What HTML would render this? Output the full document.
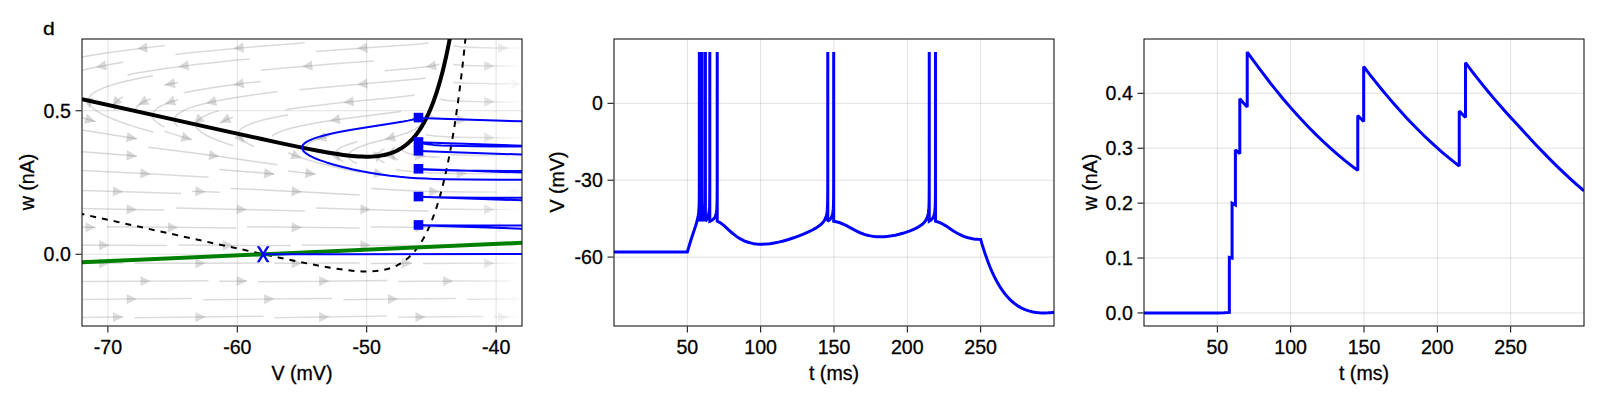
<!DOCTYPE html>
<html><head><meta charset="utf-8"><title>d</title><style>html,body{margin:0;padding:0;background:#fff}svg{display:block}</style></head><body>
<svg width="1600" height="400" viewBox="0 0 1600 400" font-family='"Liberation Sans", "DejaVu Sans", sans-serif' font-size="19.6" fill="#000">
<style>text{stroke:#000;stroke-width:0.3px}</style>
<rect width="1600" height="400" fill="#fff"/>
<defs>
<clipPath id="c0"><rect x="82" y="39" width="440" height="287"/></clipPath>
<clipPath id="c1"><rect x="614" y="39" width="440" height="287"/></clipPath>
<clipPath id="c2"><rect x="1144" y="39" width="440" height="287"/></clipPath>
</defs>
<line x1="107.88" x2="107.88" y1="39" y2="326" stroke="#000" stroke-opacity="0.12" stroke-width="1"/>
<line x1="237.29" x2="237.29" y1="39" y2="326" stroke="#000" stroke-opacity="0.12" stroke-width="1"/>
<line x1="366.71" x2="366.71" y1="39" y2="326" stroke="#000" stroke-opacity="0.12" stroke-width="1"/>
<line x1="496.12" x2="496.12" y1="39" y2="326" stroke="#000" stroke-opacity="0.12" stroke-width="1"/>
<line x1="82" x2="522" y1="254.25" y2="254.25" stroke="#000" stroke-opacity="0.12" stroke-width="1"/>
<line x1="82" x2="522" y1="110.75" y2="110.75" stroke="#000" stroke-opacity="0.12" stroke-width="1"/>
<line x1="687.33" x2="687.33" y1="39" y2="326" stroke="#000" stroke-opacity="0.12" stroke-width="1"/>
<line x1="760.67" x2="760.67" y1="39" y2="326" stroke="#000" stroke-opacity="0.12" stroke-width="1"/>
<line x1="834.00" x2="834.00" y1="39" y2="326" stroke="#000" stroke-opacity="0.12" stroke-width="1"/>
<line x1="907.33" x2="907.33" y1="39" y2="326" stroke="#000" stroke-opacity="0.12" stroke-width="1"/>
<line x1="980.67" x2="980.67" y1="39" y2="326" stroke="#000" stroke-opacity="0.12" stroke-width="1"/>
<line x1="614" x2="1054" y1="103.31" y2="103.31" stroke="#000" stroke-opacity="0.12" stroke-width="1"/>
<line x1="614" x2="1054" y1="180.20" y2="180.20" stroke="#000" stroke-opacity="0.12" stroke-width="1"/>
<line x1="614" x2="1054" y1="257.09" y2="257.09" stroke="#000" stroke-opacity="0.12" stroke-width="1"/>
<line x1="1217.33" x2="1217.33" y1="39" y2="326" stroke="#000" stroke-opacity="0.12" stroke-width="1"/>
<line x1="1290.67" x2="1290.67" y1="39" y2="326" stroke="#000" stroke-opacity="0.12" stroke-width="1"/>
<line x1="1364.00" x2="1364.00" y1="39" y2="326" stroke="#000" stroke-opacity="0.12" stroke-width="1"/>
<line x1="1437.33" x2="1437.33" y1="39" y2="326" stroke="#000" stroke-opacity="0.12" stroke-width="1"/>
<line x1="1510.67" x2="1510.67" y1="39" y2="326" stroke="#000" stroke-opacity="0.12" stroke-width="1"/>
<line x1="1144" x2="1584" y1="312.95" y2="312.95" stroke="#000" stroke-opacity="0.12" stroke-width="1"/>
<line x1="1144" x2="1584" y1="258.04" y2="258.04" stroke="#000" stroke-opacity="0.12" stroke-width="1"/>
<line x1="1144" x2="1584" y1="203.13" y2="203.13" stroke="#000" stroke-opacity="0.12" stroke-width="1"/>
<line x1="1144" x2="1584" y1="148.21" y2="148.21" stroke="#000" stroke-opacity="0.12" stroke-width="1"/>
<line x1="1144" x2="1584" y1="93.30" y2="93.30" stroke="#000" stroke-opacity="0.12" stroke-width="1"/>
<g clip-path="url(#c0)">
<path d="M443.2 118.8 L439.3 118.3 L436.2 117.8 L433.6 117.2 L431.7 116.5 L430.2 115.7 L429.7 115.2 L429.3 114.7 L429.1 114.2 L428.8 113.4 L428.7 112.2 L429.0 111.1 L429.5 109.6 L433.1 100.5 L435.5 93.8 L437.8 86.8 L440.1 79.1 L442.5 70.1 L444.8 60.7 L447.1 50.4 L449.4 39.2 M460.1 119.7 L460.3 119.7 M88.9 101.8 L88.8 101.0 L88.7 99.0 L88.8 98.6 L89.2 97.6 L89.7 96.8 L90.3 95.9 L91.2 94.9 L93.3 93.2 L96.0 91.4 L99.3 89.8 L103.0 88.1 L107.3 86.5 L112.1 84.9 L117.5 83.3 L123.5 81.8 L129.9 80.3 L137.0 78.7 L144.7 77.2 L153.0 75.7 M88.9 101.8 L89.0 102.5 L89.3 103.3 L89.6 104.2 L90.2 105.0 L91.6 106.8 L93.5 108.6 L95.8 110.4 L98.7 112.2 L102.1 114.1 L105.8 116.0 L110.1 117.9 L114.9 119.8 L120.0 121.8 L125.7 123.8 L131.9 125.9 L138.5 127.9 L145.8 130.0 L153.4 132.2 M102.9 53.5 L92.1 55.2 L82.0 56.9 M456.6 46.3 L453.4 45.7 M501.4 48.0 L501.5 48.0 M168.7 68.1 L157.3 69.7 L146.6 71.4 L136.7 73.1 L127.5 74.9 M102.6 65.9 L112.5 64.1 L123.2 62.3 M102.6 65.9 L91.8 68.1 L82.0 70.3 M432.6 65.9 L436.5 65.1 L439.5 64.3 M432.6 65.9 L426.5 66.8 M453.8 64.4 L453.3 64.3 M487.6 65.9 L487.8 65.9 M212.6 101.8 L219.0 100.5 L225.7 99.2 L240.8 96.7 L257.9 94.2 L277.1 91.8 M212.5 101.8 L206.4 103.2 L201.0 104.6 L195.9 106.0 L191.5 107.4 L187.5 108.9 L184.2 110.3 L181.3 111.8 L178.9 113.3 L176.9 114.9 L176.1 115.8 L175.5 116.6 L175.1 117.3 L174.7 118.1 L174.5 119.1 L174.3 120.0 L174.4 122.1 L174.8 122.8 L175.5 123.8 L176.2 124.7 L178.2 126.6 M403.4 96.4 L414.7 95.1 M350.1 101.8 L350.0 101.8 M335.4 103.3 L321.3 104.9 L308.3 106.5 L296.4 108.1 L285.5 109.7 M171.4 101.8 L178.2 99.7 M171.4 101.8 L167.5 103.2 L164.0 104.6 L161.0 106.0 L158.4 107.5 L156.4 109.0 L154.7 110.6 L154.0 111.3 L153.5 112.1 L152.9 113.6 L152.6 115.0 L152.6 117.8 L153.2 118.7 L153.9 119.7 L155.7 121.5 L158.1 123.3 L160.9 125.1 L164.4 127.0 M143.9 101.8 L147.1 100.2 L150.7 98.8 M143.9 101.8 L142.1 102.8 L140.4 103.8 L139.0 104.9 L137.8 105.9 L136.9 106.9 L136.1 108.0 L135.6 109.0 L135.2 110.3 M116.4 101.8 L117.7 100.5 L119.2 99.2 L121.0 98.0 L123.2 96.8 M116.4 101.8 L115.5 103.0 L114.8 104.1 L114.4 105.2 L114.2 106.9 L114.3 108.3 L114.4 108.7 L114.8 109.5 L115.5 110.6 M447.4 100.4 L442.8 99.7 L441.0 99.3 L439.6 98.9 M487.6 101.8 L487.8 101.8 M420.2 78.7 L425.7 77.9 M363.9 83.8 L363.7 83.9 M240.1 83.8 L240.4 83.8 M240.0 83.9 L223.7 86.0 L208.8 88.2 L195.5 90.5 L183.7 92.8 M171.4 83.8 L178.2 82.6 M171.4 83.8 L164.5 85.1 M336.4 119.7 L355.0 117.2 L389.3 113.1 L401.0 111.6 M336.4 119.7 L323.2 121.7 L311.7 123.7 L301.6 125.7 L292.9 127.7 L289.1 128.7 L285.6 129.8 L282.5 130.8 L279.7 131.9 L277.2 132.9 L275.0 134.1 L273.2 135.2 L271.8 136.3 M212.6 155.6 L180.4 151.3 L148.0 147.2 M212.6 155.6 L244.2 160.0 L277.2 164.7 M240.1 137.7 L239.5 136.7 L239.1 136.0 L238.8 135.4 L238.6 134.4 L238.5 133.3 L238.6 132.4 L239.0 131.5 L239.5 130.7 L240.0 130.0 L240.8 129.3 L241.7 128.5 L243.9 127.0 L246.6 125.6 L249.8 124.2 L253.7 122.8 L258.0 121.4 L262.9 120.1 L268.3 118.8 L274.4 117.4 L281.0 116.1 L288.1 114.9 M240.1 137.7 L241.0 138.7 L242.2 139.8 L243.6 140.9 L245.3 142.0 L247.2 143.2 L249.3 144.3 L254.2 146.6 M391.4 137.7 L399.7 135.3 L405.9 133.3 L408.5 132.3 L410.8 131.3 L412.9 130.3 L414.7 129.3 L416.3 128.2 L417.9 127.0 L419.3 125.7 L420.6 124.3 L421.9 122.7 L423.1 121.1 L424.4 119.1 L425.7 116.9 M391.4 137.7 L374.0 142.3 L368.7 143.8 L364.3 145.2 L360.2 146.7 L356.7 148.2 L353.8 149.6 L351.7 151.1 L350.7 151.8 L350.0 152.6 L349.3 153.5 L348.9 154.2 L348.7 155.0 L348.6 155.7 L348.6 157.7 L349.2 158.4 L349.8 159.1 L351.6 160.6 L354.0 162.1 L356.9 163.5 M336.4 155.6 L336.1 155.0 L335.9 154.0 L335.8 152.2 L336.3 151.2 L336.9 150.4 L338.0 149.5 L339.1 148.6 L340.5 147.8 L342.1 146.9 L346.1 145.2 L351.0 143.5 L357.0 141.7 M336.4 155.6 L336.8 156.3 L337.3 157.0 L338.7 158.4 L340.6 159.8 L343.2 161.3 M295.1 155.6 L291.5 154.2 L288.3 152.7 M295.1 155.6 L301.1 157.7 L307.8 159.9 L315.3 162.1 L323.5 164.3 L332.3 166.5 L341.3 168.5 L350.5 170.5 L359.7 172.2 M322.6 137.7 L329.5 135.8 M322.6 137.7 L319.3 138.7 L316.3 139.8 L313.7 140.9 L311.5 142.0 L309.7 143.1 L308.1 144.2 L307.0 145.4 L306.2 146.5 M418.9 155.6 L415.0 155.0 L411.6 154.3 L408.8 153.5 L406.3 152.6 L404.5 151.7 L403.7 151.1 L403.1 150.6 L402.6 150.0 L402.2 149.3 L401.8 148.1 M418.9 155.6 L424.8 156.3 L431.8 156.8 M391.4 155.6 L390.9 154.8 L390.5 153.7 L390.4 152.6 L390.6 151.6 L391.3 150.5 L392.2 149.3 L393.5 148.1 L395.1 146.7 M391.4 155.6 L392.4 156.7 L394.0 157.8 L395.9 158.8 L398.2 159.7 M377.6 155.6 L377.7 154.7 L378.0 154.1 L378.5 153.3 L379.3 152.4 L380.3 151.4 L381.5 150.5 L384.5 148.6 M377.6 155.6 L377.5 156.5 L377.6 157.6 L378.1 158.5 L378.8 159.3 L379.8 160.2 L381.1 161.0 L382.7 161.9 L384.5 162.7 M88.9 119.7 L82.0 117.8 M88.9 119.7 L95.7 121.6 M198.9 119.7 L200.3 118.5 L202.0 117.4 L204.0 116.2 L206.4 115.1 L209.0 114.0 L211.9 112.9 L215.2 111.9 L218.8 110.8 M198.9 119.7 L198.1 120.5 L197.5 121.3 L196.9 122.1 L196.6 122.9 L196.2 124.4 L196.1 126.6 L196.7 127.8 L197.6 129.0 L198.9 130.4 L200.5 131.7 L202.9 133.4 L205.8 135.0 L209.1 136.7 L212.9 138.4 L217.3 140.2 L222.1 142.0 L227.4 143.9 L233.2 145.7 M226.4 119.7 L229.6 118.4 L233.2 117.1 M226.4 119.7 L224.3 120.7 L222.5 121.6 L220.9 122.6 L219.5 123.6 M130.1 137.7 L82.1 129.9 M130.1 137.7 L137.0 138.8 M185.1 137.7 L174.3 134.4 L164.6 131.3 M185.1 137.7 L192.0 139.6 M438.4 136.3 L434.4 135.9 L431.1 135.5 L428.2 135.0 L425.8 134.4 M487.6 137.7 L487.8 137.7 M130.1 155.6 L95.3 152.7 M130.3 155.6 L137.0 156.2 M204.6 176.9 L208.5 177.1 M267.6 173.5 L243.9 171.5 L219.6 169.4 M267.6 173.5 L274.5 174.2 M308.9 173.5 L288.3 171.1 M308.9 173.5 L315.7 174.3 M424.1 172.5 L416.1 172.0 L408.7 171.3 L401.9 170.6 L395.5 169.7 M460.1 173.5 L460.3 173.5 M377.6 173.5 L370.8 172.4 M377.6 173.5 L384.5 174.6 M295.1 191.5 L263.4 189.9 M295.3 191.5 L359.7 194.9 M411.0 190.8 L392.2 189.8 L370.8 188.4 M432.6 191.5 L432.8 191.5" fill="none" stroke="#808080" stroke-opacity="0.31" stroke-width="1.5"/>
<path d="M460.1 119.7 L450.5 119.3 L443.2 118.8 M460.3 119.7 L460.9 119.7 M240.1 48.0 L271.1 45.4 L304.7 42.8 M240.1 48.0 L206.2 51.2 L190.4 52.8 L175.5 54.5 M143.9 48.0 L164.5 45.6 M143.9 48.0 L122.4 50.7 L102.9 53.5 M363.9 48.0 L407.1 44.9 L419.3 44.0 L428.5 43.1 M363.9 48.0 L315.9 51.4 M468.1 47.3 L461.5 46.9 L456.6 46.3 M185.1 65.9 L199.9 64.1 L215.5 62.4 L232.1 60.6 L249.7 58.9 M185.1 65.9 L168.7 68.1 M308.9 65.9 L337.5 63.6 L373.5 61.0 M308.9 65.9 L283.9 68.1 L260.9 70.2 M426.5 66.8 L419.7 67.6 L410.9 68.5 L384.6 70.7 M466.4 65.4 L459.2 65.0 L453.8 64.4 M277.1 91.8 L277.2 91.8 M212.6 101.8 L212.5 101.8 M350.1 101.8 L389.9 97.9 L403.4 96.4 M350.0 101.8 L335.4 103.3 M462.6 101.3 L454.0 100.9 L447.4 100.4 M363.9 83.8 L401.3 80.6 L411.9 79.6 L420.2 78.7 M363.7 83.9 L328.4 87.0 L299.3 89.8 M240.4 83.8 L260.7 81.4 M240.1 83.8 L240.0 83.9 M464.7 83.2 L458.3 82.8 L453.3 82.5 M515.1 83.8 L515.3 83.8 M455.7 155.1 L450.5 155.0 M515.1 155.6 L515.3 155.6 M431.8 156.8 L439.5 157.2 M458.2 137.2 L447.1 136.8 L438.4 136.3 M95.3 152.7 L82.1 151.7 M130.1 155.6 L130.3 155.6 M143.9 173.5 L82.0 170.4 M143.9 173.5 L204.6 176.9 M452.9 173.4 L437.2 173.0 L424.1 172.5 M116.4 191.5 L82.1 190.5 M116.4 191.5 L181.0 193.5 M263.4 189.9 L230.5 188.4 M295.1 191.5 L295.3 191.5 M198.9 191.5 L192.0 191.2 M198.9 191.5 L219.5 192.2 M432.6 191.5 L421.6 191.2 L411.0 190.8 M432.8 191.5 L450.0 191.8 M240.1 209.4 L175.5 208.0 M240.1 209.4 L304.7 210.9 M130.1 209.4 L82.1 208.5 M130.1 209.4 L164.4 210.1 M363.9 209.4 L315.9 208.0 M363.9 209.4 L400.1 210.4 L428.5 210.9 M446.1 209.2 L439.6 209.1 M487.6 209.4 L487.8 209.4 M171.4 227.3 L106.8 226.7 M171.4 227.3 L236.0 228.0 M88.9 227.3 L82.0 227.3 M88.9 227.3 L95.7 227.4 M295.1 227.3 L247.1 226.8 M295.1 227.3 L359.7 228.1 M418.9 227.3 L370.9 226.9 M418.9 227.3 L442.0 227.5 M102.6 245.3 L82.0 245.2 M102.6 245.3 L167.2 245.5 M226.4 245.3 L178.4 245.1 M226.4 245.3 L291.0 245.5 M363.9 245.3 L302.0 245.1 M363.9 245.3 L428.5 245.4 M198.9 263.2 L134.3 263.3 M198.9 263.2 L263.5 263.1 M295.1 263.2 L274.5 263.3 M295.1 263.2 L359.7 263.0 M429.8 263.4 L423.0 263.4 M487.6 263.2 L487.8 263.2 M405.1 263.2 L370.8 263.4 M405.1 263.2 L412.0 263.2 M322.6 281.2 L258.0 281.7 M322.6 281.2 L387.2 280.6 M240.1 281.2 L219.5 281.3 M240.1 281.2 L247.0 281.1 M420.5 281.3 L398.4 281.5 M446.4 281.2 L446.5 281.2 M293.0 298.8 L332.2 298.4 M391.4 299.1 L343.4 299.7 M391.4 299.1 L405.1 298.9" fill="none" stroke="#808080" stroke-opacity="0.291" stroke-width="1.5"/>
<path d="M460.9 119.7 L471.3 120.0 M476.1 47.6 L468.1 47.3 M474.9 65.7 L466.4 65.4 M472.4 101.6 L462.6 101.3 M473.7 83.4 L464.7 83.2 M467.9 155.3 L455.7 155.1 M469.4 137.5 L458.2 137.2 M460.1 173.5 L452.9 173.4 M460.3 173.5 L466.5 173.6 M450.0 191.8 L464.6 191.9 M462.3 209.3 L446.1 209.2 M442.0 227.5 L460.5 227.5 M457.8 245.3 L450.5 245.3 M515.1 245.3 L515.3 245.3 M102.6 263.2 L82.0 263.2 M102.6 263.2 L123.2 263.2 M455.3 263.3 L429.8 263.4 M143.9 281.2 L82.0 281.4 M143.9 281.2 L208.5 280.8 M446.4 281.2 L420.5 281.3 M446.5 281.2 L452.8 281.1 M267.6 299.1 L203.0 299.7 M267.6 299.1 L293.0 298.8 M130.1 299.1 L82.1 299.4 M130.1 299.1 L192.0 298.6 M405.1 298.9 L449.6 298.5 M198.9 317.0 L134.3 317.7 M198.9 317.0 L263.5 316.2 M116.4 317.0 L82.1 317.4 M116.4 317.0 L123.2 317.0 M322.6 317.0 L274.6 317.7 M322.6 317.0 L387.2 316.0 M418.9 317.0 L398.3 317.3 M418.9 317.0 L445.9 316.7" fill="none" stroke="#808080" stroke-opacity="0.271" stroke-width="1.5"/>
<path d="M471.3 120.0 L478.8 120.1 M482.5 47.7 L476.1 47.6 M481.5 65.8 L474.9 65.7 M479.5 101.7 L472.4 101.6 M480.6 83.6 L473.7 83.4 M476.2 155.4 L467.9 155.3 M477.3 137.6 L469.4 137.5 M466.5 173.6 L475.3 173.7 M464.6 191.9 L474.0 192.0 M472.4 209.4 L462.3 209.3 M460.5 227.5 L471.3 227.6 M469.4 245.3 L457.8 245.3 M467.8 263.2 L455.3 263.3 M452.8 281.1 L466.6 281.1 M449.6 298.5 L456.0 298.4 M445.9 316.7 L462.7 316.6" fill="none" stroke="#808080" stroke-opacity="0.252" stroke-width="1.5"/>
<path d="M478.8 120.1 L484.7 120.2 M487.7 47.8 L482.5 47.7 M486.8 65.9 L481.5 65.8 M485.2 101.8 L479.5 101.7 M486.0 83.6 L480.6 83.6 M482.6 155.5 L476.2 155.4 M483.5 137.6 L477.3 137.6 M475.3 173.7 L482.0 173.7 M474.0 192.0 L481.0 192.0 M479.6 209.4 L472.4 209.4 M471.3 227.6 L478.9 227.6 M477.5 245.3 L469.4 245.3 M476.4 263.2 L467.8 263.2 M466.6 281.1 L475.5 281.0 M473.8 299.2 L467.1 299.2 M515.1 299.1 L515.3 299.1 M462.7 316.6 L473.0 316.5" fill="none" stroke="#808080" stroke-opacity="0.232" stroke-width="1.5"/>
<path d="M484.7 120.2 L489.6 120.2 M492.1 47.9 L487.7 47.8 M487.6 65.9 L486.8 65.9 M487.8 65.9 L491.8 66.0 M487.6 101.8 L485.2 101.8 M487.8 101.8 L490.5 101.8 M490.7 83.7 L486.0 83.6 M487.8 155.5 L482.6 155.5 M487.6 137.7 L483.5 137.6 M487.8 137.7 L489.0 137.7 M482.0 173.7 L487.4 173.7 M481.0 192.0 L486.7 192.0 M485.6 209.4 L479.6 209.4 M478.9 227.6 L483.5 227.6 M483.8 245.3 L477.5 245.3 M483.0 263.2 L476.4 263.2 M475.5 281.0 L482.4 281.0 M481.0 299.2 L473.8 299.2 M473.0 316.5 L480.5 316.5" fill="none" stroke="#808080" stroke-opacity="0.213" stroke-width="1.5"/>
<path d="M489.6 120.2 L494.0 120.2 M495.9 47.9 L492.1 47.9 M491.8 66.0 L495.8 66.0 M490.5 101.8 L494.6 101.8 M494.8 83.7 L490.7 83.7 M492.3 155.5 L487.8 155.5 M489.0 137.7 L493.3 137.7 M487.4 173.7 L492.1 173.8 M486.7 192.0 L491.4 192.1 M487.6 209.4 L485.6 209.4 M487.8 209.4 L490.7 209.4 M489.0 245.3 L483.8 245.3 M487.6 263.2 L483.0 263.2 M487.8 263.2 L488.7 263.2 M482.4 281.0 L487.9 281.0 M486.8 299.1 L481.0 299.2 M480.5 316.5 L483.5 316.4" fill="none" stroke="#808080" stroke-opacity="0.194" stroke-width="1.5"/>
<path d="M494.0 120.2 L497.8 120.3 M499.4 48.0 L495.9 47.9 M495.8 66.0 L499.3 66.0 M494.6 101.8 L498.2 101.9 M498.4 83.8 L494.8 83.7 M496.4 155.5 L492.3 155.5 M493.3 137.7 L497.2 137.7 M492.1 173.8 L496.1 173.8 M491.4 192.1 L495.6 192.1 M490.7 209.4 L495.0 209.4 M493.5 245.3 L489.0 245.3 M488.7 263.2 L493.2 263.2 M487.9 281.0 L492.6 281.0 M491.6 299.1 L486.8 299.1" fill="none" stroke="#808080" stroke-opacity="0.174" stroke-width="1.5"/>
<path d="M497.8 120.3 L501.1 120.3 M501.4 48.0 L499.4 48.0 M501.5 48.0 L502.9 48.0 M499.3 66.0 L502.5 66.1 M498.2 101.9 L501.6 101.9 M501.7 83.8 L498.4 83.8 M499.9 155.6 L496.4 155.5 M497.2 137.7 L500.7 137.7 M496.1 173.8 L499.7 173.8 M495.6 192.1 L497.2 192.1 M495.0 209.4 L498.8 209.4 M497.9 227.3 L494.5 227.3 M501.4 227.3 L501.5 227.3 M497.4 245.3 L493.5 245.3 M493.2 263.2 L497.3 263.2 M492.6 281.0 L496.7 281.0 M495.8 299.1 L491.6 299.1 M495.3 317.0 L494.5 317.0 M501.4 317.0 L501.5 317.0" fill="none" stroke="#808080" stroke-opacity="0.155" stroke-width="1.5"/>
<path d="M501.1 120.3 L504.4 120.3 M502.9 48.0 L505.9 48.0 M502.5 66.1 L505.5 66.1 M501.6 101.9 L504.7 101.9 M504.8 83.8 L501.7 83.8 M503.1 155.6 L499.9 155.6 M500.7 137.7 L503.9 137.7 M499.7 173.8 L503.1 173.8 M498.8 209.4 L502.2 209.4 M501.4 227.3 L497.9 227.3 M501.5 227.3 L501.8 227.3 M501.0 245.3 L497.4 245.3 M497.3 263.2 L501.0 263.2 M496.7 281.0 L500.5 281.0 M499.6 299.1 L495.8 299.1 M499.0 317.0 L495.3 317.0" fill="none" stroke="#808080" stroke-opacity="0.136" stroke-width="1.5"/>
<path d="M504.4 120.3 L507.2 120.3 M505.9 48.0 L508.6 48.0 M505.5 66.1 L508.3 66.1 M504.7 101.9 L507.7 101.9 M507.6 83.8 L504.8 83.8 M506.2 155.6 L503.1 155.6 M503.9 137.7 L506.9 137.7 M503.1 173.8 L506.2 173.8 M502.2 209.4 L505.5 209.4 M501.8 227.3 L505.0 227.3 M504.3 245.3 L501.0 245.3 M501.0 263.2 L504.2 263.2 M500.5 281.0 L503.8 281.0 M503.1 299.1 L499.6 299.1 M501.4 317.0 L499.0 317.0 M501.5 317.0 L503.1 317.0" fill="none" stroke="#808080" stroke-opacity="0.116" stroke-width="1.5"/>
<path d="M507.2 120.3 L510.1 120.3 M508.6 48.0 L511.3 48.0 M508.3 66.1 L511.0 66.1 M507.7 101.9 L510.4 101.9 M510.3 83.8 L507.6 83.8 M509.0 155.6 L506.2 155.6 M506.9 137.7 L509.8 137.8 M506.2 173.8 L509.0 173.8 M508.4 191.5 L508.3 191.5 M515.1 191.5 L515.3 191.5 M505.5 209.4 L508.5 209.4 M505.0 227.3 L508.1 227.3 M507.4 245.3 L504.3 245.3 M504.2 263.2 L507.4 263.2 M503.8 281.0 L507.1 281.0 M506.3 299.1 L503.1 299.1 M503.1 317.0 L506.3 317.0" fill="none" stroke="#808080" stroke-opacity="0.097" stroke-width="1.5"/>
<path d="M510.1 120.3 L512.8 120.3 M511.3 48.0 L513.9 48.0 M511.0 66.1 L513.6 66.1 M510.4 101.9 L513.1 101.9 M512.9 83.8 L510.3 83.8 M511.8 155.6 L509.0 155.6 M509.8 137.8 L512.5 137.8 M509.0 173.8 L511.9 173.8 M511.2 191.5 L508.4 191.5 M508.5 209.4 L511.3 209.4 M508.1 227.3 L511.0 227.3 M510.3 245.3 L507.4 245.3 M507.4 263.2 L510.4 263.2 M507.1 281.0 L510.0 281.0 M509.3 299.1 L506.3 299.1 M506.3 317.0 L509.4 317.0" fill="none" stroke="#808080" stroke-opacity="0.078" stroke-width="1.5"/>
<path d="M512.8 120.3 L515.5 120.3 M513.9 48.0 L516.5 48.1 M513.6 66.1 L516.2 66.1 M513.1 101.9 L515.7 101.9 M515.1 83.8 L512.9 83.8 M515.3 83.8 L516.0 83.8 M514.6 155.6 L511.8 155.6 M512.5 137.8 L515.2 137.8 M511.9 173.8 L514.7 173.8 M514.1 191.5 L511.2 191.5 M511.3 209.4 L514.2 209.4 M511.0 227.3 L513.9 227.3 M513.2 245.3 L510.3 245.3 M510.4 263.2 L513.4 263.2 M510.0 281.0 L511.0 281.0 M512.4 299.1 L509.3 299.1 M509.4 317.0 L512.5 317.0" fill="none" stroke="#808080" stroke-opacity="0.058" stroke-width="1.5"/>
<path d="M515.5 120.3 L518.2 120.3 M516.5 48.1 L519.2 48.1 M516.2 66.1 L518.9 66.1 M515.7 101.9 L518.6 102.0 M516.0 83.8 L518.7 83.9 M515.1 155.6 L514.6 155.6 M515.3 155.6 L517.8 155.6 M515.2 137.8 L518.0 137.8 M514.7 173.8 L517.6 173.8 M515.1 191.5 L514.1 191.5 M515.3 191.5 L517.3 191.5 M514.2 209.4 L517.1 209.4 M513.9 227.3 L516.8 227.4 M515.1 245.3 L513.2 245.3 M515.3 245.3 L516.5 245.3 M513.4 263.2 L516.4 263.2 M515.1 299.1 L512.4 299.1 M515.3 299.1 L515.8 299.1 M512.5 317.0 L515.6 317.0" fill="none" stroke="#808080" stroke-opacity="0.039" stroke-width="1.5"/>
<path d="M518.2 120.3 L521.5 120.3 M519.2 48.1 L522.0 48.1 M518.9 66.1 L521.9 66.1 M518.6 102.0 L521.7 102.0 M518.7 83.9 L521.9 83.9 M517.8 155.6 L521.1 155.6 M518.0 137.8 L521.3 137.8 M517.6 173.8 L520.8 173.8 M517.3 191.5 L520.6 191.5 M517.1 209.4 L520.4 209.4 M516.8 227.4 L520.1 227.4 M516.5 245.3 L519.9 245.3 M516.4 263.2 L519.7 263.2 M515.8 299.1 L519.3 299.1 M515.6 317.0 L519.1 317.0" fill="none" stroke="#808080" stroke-opacity="0.019" stroke-width="1.5"/>
<path d="M467.0 119.9 L456.5 124.8 L456.9 114.5Z" fill="#808080" fill-opacity="0.282"/>
<path d="M90.0 108.6 L83.2 99.2 L93.4 97.5Z" fill="#808080" fill-opacity="0.310"/>
<path d="M233.3 48.6 L243.1 42.5 L244.0 52.8Z" fill="#808080" fill-opacity="0.293"/>
<path d="M137.1 48.8 L146.7 42.4 L147.9 52.7Z" fill="#808080" fill-opacity="0.298"/>
<path d="M357.0 48.4 L366.9 42.6 L367.7 52.9Z" fill="#808080" fill-opacity="0.289"/>
<path d="M508.2 48.0 L497.9 53.1 L498.0 42.8Z" fill="#808080" fill-opacity="0.154"/>
<path d="M178.3 66.8 L187.9 60.4 L189.2 70.6Z" fill="#808080" fill-opacity="0.299"/>
<path d="M302.0 66.5 L311.9 60.5 L312.7 70.8Z" fill="#808080" fill-opacity="0.294"/>
<path d="M95.9 67.2 L105.0 60.2 L107.0 70.3Z" fill="#808080" fill-opacity="0.303"/>
<path d="M425.9 67.1 L435.1 60.2 L436.9 70.4Z" fill="#808080" fill-opacity="0.303"/>
<path d="M494.5 66.0 L484.1 71.0 L484.3 60.7Z" fill="#808080" fill-opacity="0.220"/>
<path d="M205.9 103.2 L214.9 96.0 L217.1 106.1Z" fill="#808080" fill-opacity="0.305"/>
<path d="M343.3 102.5 L353.0 96.3 L354.1 106.6Z" fill="#808080" fill-opacity="0.300"/>
<path d="M164.9 104.0 L173.0 95.8 L176.3 105.6Z" fill="#808080" fill-opacity="0.307"/>
<path d="M137.8 105.0 L144.5 95.6 L149.3 104.8Z" fill="#808080" fill-opacity="0.308"/>
<path d="M111.9 107.0 L114.7 95.8 L122.5 102.6Z" fill="#808080" fill-opacity="0.309"/>
<path d="M494.5 101.8 L484.1 106.9 L484.2 96.6Z" fill="#808080" fill-opacity="0.214"/>
<path d="M357.0 84.4 L366.9 78.4 L367.7 88.7Z" fill="#808080" fill-opacity="0.296"/>
<path d="M233.3 84.7 L242.9 78.3 L244.2 88.5Z" fill="#808080" fill-opacity="0.300"/>
<path d="M164.6 85.1 L173.8 78.2 L175.7 88.3Z" fill="#808080" fill-opacity="0.303"/>
<path d="M522.0 83.9 L511.7 89.0 L511.7 78.7Z" fill="#808080" fill-opacity="0.053"/>
<path d="M329.6 120.7 L339.1 114.1 L340.5 124.3Z" fill="#808080" fill-opacity="0.303"/>
<path d="M219.4 156.5 L208.5 160.2 L209.9 150.0Z" fill="#808080" fill-opacity="0.305"/>
<path d="M244.3 143.1 L234.0 138.1 L242.1 131.8Z" fill="#808080" fill-opacity="0.309"/>
<path d="M384.7 139.4 L393.4 131.8 L396.0 141.7Z" fill="#808080" fill-opacity="0.307"/>
<path d="M339.3 161.8 L330.2 154.7 L339.5 150.3Z" fill="#808080" fill-opacity="0.310"/>
<path d="M301.5 158.0 L290.1 159.2 L293.8 149.6Z" fill="#808080" fill-opacity="0.308"/>
<path d="M316.1 139.6 L324.4 131.7 L327.4 141.6Z" fill="#808080" fill-opacity="0.307"/>
<path d="M522.0 155.6 L511.7 160.7 L511.7 150.4Z" fill="#808080" fill-opacity="0.046"/>
<path d="M425.7 156.5 L414.8 160.2 L416.2 150.0Z" fill="#808080" fill-opacity="0.305"/>
<path d="M395.5 161.1 L385.2 156.0 L393.4 149.7Z" fill="#808080" fill-opacity="0.309"/>
<path d="M376.7 162.4 L373.0 151.5 L383.2 152.9Z" fill="#808080" fill-opacity="0.310"/>
<path d="M95.5 121.6 L84.2 123.8 L86.9 113.8Z" fill="#808080" fill-opacity="0.306"/>
<path d="M193.8 124.4 L197.9 113.6 L204.9 121.2Z" fill="#808080" fill-opacity="0.309"/>
<path d="M220.1 122.5 L227.5 113.6 L231.6 123.1Z" fill="#808080" fill-opacity="0.308"/>
<path d="M136.9 138.8 L125.9 142.2 L127.6 132.0Z" fill="#808080" fill-opacity="0.305"/>
<path d="M191.7 139.5 L180.4 141.7 L183.2 131.8Z" fill="#808080" fill-opacity="0.307"/>
<path d="M494.5 137.7 L484.2 142.8 L484.2 132.5Z" fill="#808080" fill-opacity="0.208"/>
<path d="M137.0 156.2 L126.3 160.4 L127.1 150.2Z" fill="#808080" fill-opacity="0.301"/>
<path d="M150.7 173.9 L140.2 178.5 L140.7 168.2Z" fill="#808080" fill-opacity="0.298"/>
<path d="M274.5 174.1 L263.7 178.4 L264.7 168.1Z" fill="#808080" fill-opacity="0.304"/>
<path d="M315.7 174.3 L304.9 178.2 L306.1 168.0Z" fill="#808080" fill-opacity="0.305"/>
<path d="M467.0 173.6 L456.6 178.6 L456.8 168.3Z" fill="#808080" fill-opacity="0.272"/>
<path d="M384.4 174.6 L373.4 178.1 L375.0 167.9Z" fill="#808080" fill-opacity="0.307"/>
<path d="M123.2 191.7 L112.8 196.5 L113.1 186.2Z" fill="#808080" fill-opacity="0.294"/>
<path d="M302.0 191.8 L291.4 196.4 L292.0 186.2Z" fill="#808080" fill-opacity="0.301"/>
<path d="M205.7 191.7 L195.3 196.5 L195.6 186.2Z" fill="#808080" fill-opacity="0.297"/>
<path d="M439.5 191.6 L429.1 196.5 L429.3 186.2Z" fill="#808080" fill-opacity="0.293"/>
<path d="M522.0 191.5 L511.7 196.6 L511.7 186.3Z" fill="#808080" fill-opacity="0.042"/>
<path d="M247.0 209.6 L236.6 214.5 L236.8 204.2Z" fill="#808080" fill-opacity="0.296"/>
<path d="M137.0 209.5 L126.6 214.5 L126.8 204.2Z" fill="#808080" fill-opacity="0.291"/>
<path d="M370.7 209.6 L360.3 214.5 L360.6 204.2Z" fill="#808080" fill-opacity="0.300"/>
<path d="M494.5 209.4 L484.2 214.5 L484.2 204.2Z" fill="#808080" fill-opacity="0.196"/>
<path d="M178.2 227.4 L167.9 232.5 L168.0 222.2Z" fill="#808080" fill-opacity="0.289"/>
<path d="M95.7 227.4 L85.4 232.5 L85.5 222.2Z" fill="#808080" fill-opacity="0.286"/>
<path d="M302.0 227.4 L291.6 232.5 L291.8 222.2Z" fill="#808080" fill-opacity="0.294"/>
<path d="M425.7 227.4 L415.4 232.5 L415.5 222.2Z" fill="#808080" fill-opacity="0.292"/>
<path d="M508.2 227.3 L497.9 232.5 L497.9 222.2Z" fill="#808080" fill-opacity="0.127"/>
<path d="M109.5 245.3 L99.2 250.4 L99.2 240.1Z" fill="#808080" fill-opacity="0.283"/>
<path d="M233.2 245.3 L222.9 250.4 L223.0 240.1Z" fill="#808080" fill-opacity="0.288"/>
<path d="M370.7 245.3 L360.4 250.4 L360.5 240.1Z" fill="#808080" fill-opacity="0.293"/>
<path d="M522.0 245.3 L511.7 250.4 L511.7 240.1Z" fill="#808080" fill-opacity="0.037"/>
<path d="M205.7 263.2 L195.5 268.4 L195.4 258.1Z" fill="#808080" fill-opacity="0.284"/>
<path d="M109.5 263.2 L99.2 268.4 L99.2 258.1Z" fill="#808080" fill-opacity="0.280"/>
<path d="M302.0 263.2 L291.7 268.4 L291.7 258.1Z" fill="#808080" fill-opacity="0.288"/>
<path d="M494.5 263.2 L484.2 268.4 L484.2 258.1Z" fill="#808080" fill-opacity="0.187"/>
<path d="M412.0 263.2 L401.7 268.4 L401.7 258.1Z" fill="#808080" fill-opacity="0.288"/>
<path d="M150.7 281.1 L140.5 286.3 L140.4 276.0Z" fill="#808080" fill-opacity="0.278"/>
<path d="M329.5 281.1 L319.2 286.3 L319.1 276.0Z" fill="#808080" fill-opacity="0.285"/>
<path d="M247.0 281.1 L236.7 286.3 L236.7 276.0Z" fill="#808080" fill-opacity="0.282"/>
<path d="M453.2 281.1 L443.0 286.3 L442.9 276.0Z" fill="#808080" fill-opacity="0.267"/>
<path d="M274.5 299.0 L264.2 304.3 L264.1 294.0Z" fill="#808080" fill-opacity="0.280"/>
<path d="M137.0 299.0 L126.7 304.3 L126.7 294.0Z" fill="#808080" fill-opacity="0.274"/>
<path d="M398.2 299.0 L388.0 304.3 L387.9 294.0Z" fill="#808080" fill-opacity="0.282"/>
<path d="M522.0 299.1 L511.7 304.2 L511.7 293.9Z" fill="#808080" fill-opacity="0.032"/>
<path d="M205.7 317.0 L195.5 322.2 L195.4 311.9Z" fill="#808080" fill-opacity="0.274"/>
<path d="M123.2 317.0 L113.0 322.2 L112.9 311.9Z" fill="#808080" fill-opacity="0.270"/>
<path d="M329.5 316.9 L319.3 322.2 L319.1 311.9Z" fill="#808080" fill-opacity="0.279"/>
<path d="M425.7 316.9 L415.5 322.2 L415.4 311.9Z" fill="#808080" fill-opacity="0.275"/>
<path d="M508.2 317.0 L498.0 322.2 L497.9 311.9Z" fill="#808080" fill-opacity="0.115"/>
<path d="M82 99.27 L211.02 127.87 L260.65 138.79 L279.39 142.85 L294.83 146.11 L306.96 148.59 L317.99 150.73 L329.02 152.71 L338.94 154.29 L343.35 154.9 L347.76 155.45 L352.18 155.91 L355.48 156.2 L358.79 156.43 L362.1 156.58 L365.41 156.66 L368.72 156.65 L372.03 156.54 L375.33 156.31 L378.64 155.95 L380.85 155.63 L384.16 155.02 L387.46 154.21 L390.77 153.2 L392.98 152.4 L396.29 150.97 L398.49 149.86 L400.7 148.6 L401.8 147.92 L404.01 146.43 L406.21 144.76 L408.42 142.9 L410.62 140.83 L412.83 138.53 L415.03 135.99 L417.24 133.18 L419.44 130.07 L421.65 126.64 L423.85 122.86 L426.06 118.71 L428.27 114.14 L429.37 111.69 L431.57 106.43 L433.78 100.66 L435.98 94.33 L437.09 90.94 L439.29 83.69 L440.4 79.81 L442.6 71.49 L443.7 67.05 L445.91 57.54 L447.01 52.45 L449.22 41.58 L451.42 29.69 L452.53 23.34 L454.73 9.77 L455.83 2.52 L458.04 -12.98 L459.14 -21.25 L461.35 -38.92 L462.45 -48.35 L464.66 -68.5 L465.76 -79.25 L467.96 -102.21 L469.07 -114.46 L471.27 -140.62 L472.38 -154.57 L474.58 -184.36 L476.79 -216.84 L477.89 -234.17 L480.1 -271.15 L482.3 -311.46 L484.51 -355.4 L486.71 -403.3 L488.92 -455.5 L491.12 -512.38 L493.33 -574.37 L495.53 -641.91 L497.74 -715.51 L499.94 -795.69 L501.05 -838.44 L503.25 -929.62 L505.46 -1028.96 L507.66 -1137.18 L508.77 -1194.86 L510.97 -1317.91 L512.08 -1383.49 L514.28 -1523.37 L515.38 -1597.93 L517.59 -1756.95 L518.69 -1841.71 L520.9 -2022.49 L522 -2118.83" fill="none" stroke="#000" stroke-width="4" stroke-linejoin="round"/>
<path d="M82 214.07 L211.02 242.67 L260.65 253.59 L279.39 257.65 L294.83 260.91 L306.96 263.39 L317.99 265.53 L329.02 267.51 L338.94 269.09 L343.35 269.7 L347.76 270.25 L352.18 270.71 L355.48 271 L358.79 271.23 L362.1 271.38 L365.41 271.46 L368.72 271.45 L372.03 271.34 L375.33 271.11 L378.64 270.75 L380.85 270.43 L384.16 269.82 L387.46 269.01 L390.77 268 L392.98 267.2 L396.29 265.77 L398.49 264.66 L400.7 263.4 L401.8 262.72 L404.01 261.23 L406.21 259.56 L408.42 257.7 L410.62 255.63 L412.83 253.33 L415.03 250.79 L417.24 247.98 L419.44 244.87 L421.65 241.44 L423.85 237.66 L426.06 233.51 L428.27 228.94 L429.37 226.49 L431.57 221.23 L433.78 215.46 L435.98 209.13 L437.09 205.74 L439.29 198.49 L440.4 194.61 L442.6 186.29 L443.7 181.85 L445.91 172.34 L447.01 167.25 L449.22 156.38 L451.42 144.49 L452.53 138.14 L454.73 124.57 L455.83 117.32 L458.04 101.82 L459.14 93.55 L461.35 75.88 L462.45 66.45 L464.66 46.3 L465.76 35.55 L467.96 12.59 L469.07 0.34 L471.27 -25.82 L472.38 -39.77 L474.58 -69.56 L476.79 -102.04 L477.89 -119.37 L480.1 -156.35 L482.3 -196.66 L484.51 -240.6 L486.71 -288.5 L488.92 -340.7 L491.12 -397.58 L493.33 -459.57 L495.53 -527.11 L497.74 -600.71 L499.94 -680.89 L501.05 -723.64 L503.25 -814.82 L505.46 -914.16 L507.66 -1022.38 L508.77 -1080.06 L510.97 -1203.11 L512.08 -1268.69 L514.28 -1408.57 L515.38 -1483.13 L517.59 -1642.15 L518.69 -1726.91 L520.9 -1907.69 L522 -2004.03" fill="none" stroke="#000" stroke-width="2" stroke-dasharray="6 6" stroke-dashoffset="3.6" stroke-linejoin="round"/>
<path d="M82.00 262.29 L522.00 242.77" fill="none" stroke="#008000" stroke-width="4"/>
<path d="M263.18 254.25 L337.18 254.2 L506.83 253.96 L1272.59 253.95 L418.47 225.25 L458.22 225.48 L516.44 225.55 L1272.59 225.56 L418.47 196.86 L436.04 197.27 L455.92 197.53 L479.9 197.68 L514.36 197.75 L1272.59 197.78 L418.47 169.08 L422.6 169.38 L429.43 169.76 L437.02 170.08 L445.37 170.34 L454.9 170.54 L478.19 170.8 L512.49 170.93 L646.34 170.98 L1272.59 170.99 L418.47 142.29 L420.21 142.84 L422.23 143.33 L424.54 143.78 L427.23 144.19 L433.48 144.88 L441.33 145.42 L450.76 145.82 L462.18 146.11 L476.65 146.32 L494.78 146.45 L532.47 146.54 L594.92 146.58 L1272.59 146.59 L418.47 117.89 L415.56 118.82 L412.1 119.72 L408.06 120.63 L403.24 121.57 L392.65 123.36 L364 127.73 L350.16 129.99 L343.09 131.26 L336.74 132.5 L330.99 133.73 L325.77 134.97 L320.4 136.41 L315.74 137.86 L311.76 139.33 L308.46 140.83 L307.09 141.58 L305.86 142.34 L304.81 143.11 L303.94 143.88 L303.23 144.66 L302.69 145.44 L302.32 146.24 L302.11 147.04 L302.1 148.06 L302.35 149.09 L302.87 150.14 L303.67 151.2 L304.74 152.27 L306.07 153.35 L307.67 154.44 L309.54 155.55 L311.69 156.67 L314.12 157.81 L316.82 158.96 L319.77 160.11 L326.45 162.43 L334.08 164.75 L342.75 167.07 L352.04 169.28 L361.61 171.29 L371.25 173.07 L380.69 174.57 L390.12 175.82 L399.71 176.85 L409.58 177.68 L417.24 178.17 L425.4 178.58 L434.26 178.91 L444.01 179.16 L467.24 179.5 L500.73 179.67 L615.48 179.74 L1272.59 179.75 L418.56 151.06" fill="none" stroke="#00f" stroke-width="2" stroke-linejoin="round"/>
<rect x="413.67" y="220.15" width="9.6" height="9.6" fill="#00f"/>
<rect x="413.67" y="191.76" width="9.6" height="9.6" fill="#00f"/>
<rect x="413.67" y="163.98" width="9.6" height="9.6" fill="#00f"/>
<rect x="413.67" y="137.19" width="9.6" height="9.6" fill="#00f"/>
<rect x="413.67" y="112.79" width="9.6" height="9.6" fill="#00f"/>
<rect x="413.67" y="145.95" width="9.6" height="9.6" fill="#00f"/>
<path d="M256.78 246.25 L259.58 246.25 L269.58 262.25 L266.78 262.25Z M266.78 246.25 L269.58 246.25 L259.58 262.25 L256.78 262.25Z" fill="#00f" fill-rule="nonzero"/>
</g>
<g clip-path="url(#c1)">
<path d="M614 251.96 L687.33 251.88 L690.37 241.77 L695.52 226.17 L696.98 221.27 L697.73 218.2 L698.29 215.21 L698.69 212.16 L698.96 208.72 L699.2 202.43 L699.3 191.23 L699.35 52.05 L699.35 221.21 L700.01 219.16 L700.53 217.16 L700.96 215.1 L701.3 212.89 L701.55 210.58 L701.74 207.88 L701.96 200.96 L702.03 192.13 L702.06 170.46 L702.07 52.05 L702.07 221.21 L702.87 219.47 L703.51 217.68 L704.04 215.76 L704.45 213.7 L704.76 211.47 L704.99 208.83 L705.26 202.21 L705.37 182.66 L705.4 52.05 L705.4 221.21 L706.46 219.82 L707.32 218.31 L708.03 216.61 L708.57 214.72 L708.98 212.59 L709.29 210.05 L709.51 206.88 L709.64 203.21 L709.74 195.63 L709.79 176.08 L709.8 52.05 L709.8 221.21 L710.73 220.86 L711.58 220.45 L712.35 219.98 L713.04 219.46 L713.67 218.86 L714.23 218.19 L714.72 217.47 L715.16 216.65 L715.54 215.74 L715.86 214.76 L716.37 212.46 L716.73 209.68 L716.96 206.09 L717.14 198.63 L717.19 186.26 L717.22 52.05 L717.22 221.21 L718.4 221.74 L719.54 222.36 L720.7 223.08 L721.89 223.92 L724.34 225.92 L730.76 231.77 L734.19 234.65 L736.14 236.12 L738.07 237.44 L739.99 238.63 L741.94 239.7 L744.23 240.79 L746.57 241.73 L748.96 242.51 L751.43 243.16 L753.95 243.65 L756.55 244 L759.23 244.2 L762 244.26 L765.83 244.12 L769.86 243.72 L774.1 243.07 L778.59 242.16 L783.37 240.97 L788.42 239.51 L793.67 237.8 L798.96 235.89 L803.93 233.92 L808.45 231.95 L812.38 230.03 L815.74 228.15 L818.5 226.35 L820.79 224.54 L821.77 223.62 L822.65 222.69 L823.43 221.74 L824.13 220.75 L825.01 219.23 L825.73 217.6 L826.3 215.84 L826.75 213.85 L827.09 211.67 L827.34 209.13 L827.52 206.07 L827.63 202.16 L827.72 194.01 L827.75 182.19 L827.78 52.05 L827.78 221.21 L829.19 220.2 L829.81 219.61 L830.36 218.97 L831.3 217.53 L832.03 215.84 L832.59 213.85 L833 211.47 L833.28 208.67 L833.47 205.01 L833.6 198.64 L833.66 186.28 L833.69 52.05 L833.69 221.21 L836.11 221.71 L838.34 222.3 L840.5 223 L842.64 223.85 L846.41 225.65 L853.8 229.67 L857.17 231.39 L860.83 233.02 L864.37 234.32 L866.41 234.94 L868.47 235.46 L870.55 235.9 L872.65 236.25 L874.79 236.51 L876.97 236.69 L879.19 236.78 L881.46 236.79 L884.78 236.64 L888.21 236.32 L891.73 235.83 L895.35 235.16 L899.08 234.32 L902.8 233.31 L906.45 232.17 L909.94 230.92 L913.02 229.66 L915.83 228.35 L918.3 227.01 L920.46 225.64 L922.31 224.23 L923.86 222.78 L925.15 221.27 L926.22 219.63 L926.94 218.18 L927.53 216.63 L928 214.95 L928.38 213.01 L928.67 210.79 L928.88 208.35 L929.13 201.64 L929.23 185.54 L929.26 52.05 L929.26 221.21 L929.92 220.83 L931.24 219.84 L932.34 218.64 L933.22 217.22 L933.91 215.55 L934.44 213.57 L934.82 211.26 L935.1 208.32 L935.27 204.75 L935.42 195.94 L935.46 178.95 L935.49 52.05 L935.49 221.21 L937.37 221.73 L939.15 222.34 L940.89 223.08 L942.65 223.97 L945.83 225.85 L952.67 230.43 L955.97 232.49 L959.59 234.47 L963.14 236.07 L965.21 236.85 L967.29 237.52 L969.4 238.08 L971.56 238.55 L973.76 238.91 L976 239.18 L978.31 239.34 L980.67 239.41 L982.5 245.63 L984.32 251.41 L986.17 256.87 L988.06 262.06 L989.99 266.97 L991.96 271.57 L993.98 275.94 L996.05 280.02 L998.18 283.86 L1000.35 287.42 L1002.58 290.73 L1004.87 293.8 L1007.21 296.61 L1009.63 299.2 L1012.11 301.53 L1014.68 303.65 L1016.64 305.08 L1018.67 306.4 L1020.74 307.58 L1022.86 308.65 L1025.03 309.59 L1027.28 310.41 L1029.58 311.12 L1031.96 311.71 L1034.39 312.18 L1036.9 312.54 L1039.49 312.79 L1042.18 312.93 L1044.97 312.95 L1047.85 312.86 L1050.86 312.66 L1054 312.35" fill="none" stroke="#00f" stroke-width="3" stroke-linejoin="miter" stroke-miterlimit="2"/>
</g>
<g clip-path="url(#c2)">
<path d="M1144 312.95 L1218.13 312.94 L1223.99 312.77 L1229.35 312.38 L1229.35 257.46 L1232.07 258.07 L1232.07 203.15 L1235.4 204.91 L1235.4 150 L1239.8 153.64 L1239.8 98.73 L1243.95 103.4 L1247.22 106.96 L1247.22 52.05 L1254.16 61.65 L1261.45 71.45 L1268.59 80.77 L1275.59 89.62 L1282.39 97.93 L1289.14 105.89 L1295.86 113.52 L1302.56 120.84 L1309.4 128.01 L1316.26 134.9 L1323.17 141.54 L1330.12 147.93 L1337.23 154.16 L1344.38 160.12 L1351.64 165.85 L1355.19 168.53 L1357.78 170.4 L1357.78 115.49 L1363.69 121.51 L1363.69 66.6 L1369.46 74.12 L1375.41 81.66 L1381.56 89.23 L1387.76 96.65 L1393.86 103.75 L1399.9 110.56 L1405.92 117.14 L1411.9 123.46 L1417.87 129.56 L1423.84 135.45 L1429.82 141.14 L1435.82 146.63 L1441.94 152.01 L1448.04 157.15 L1454.19 162.1 L1459.26 165.96 L1459.26 111.05 L1465.49 117.55 L1465.49 62.63 L1472.4 71.78 L1479.66 81.08 L1487.01 90.19 L1494.27 98.9 L1500.22 105.81 L1506.12 112.45 L1527.56 135.79 L1535.82 144.65 L1543.23 152.41 L1550.28 159.61 L1557.12 166.39 L1563.91 172.9 L1570.62 179.11 L1577.31 185.08 L1584 190.82" fill="none" stroke="#00f" stroke-width="3" stroke-linejoin="miter" stroke-miterlimit="2"/>
</g>
<line x1="107.88" x2="107.88" y1="326.5" y2="332.5" stroke="#000" stroke-width="1"/>
<text x="107.88" y="354.2" text-anchor="middle">-70</text>
<line x1="237.29" x2="237.29" y1="326.5" y2="332.5" stroke="#000" stroke-width="1"/>
<text x="237.29" y="354.2" text-anchor="middle">-60</text>
<line x1="366.71" x2="366.71" y1="326.5" y2="332.5" stroke="#000" stroke-width="1"/>
<text x="366.71" y="354.2" text-anchor="middle">-50</text>
<line x1="496.12" x2="496.12" y1="326.5" y2="332.5" stroke="#000" stroke-width="1"/>
<text x="496.12" y="354.2" text-anchor="middle">-40</text>
<line x1="75.5" x2="81.5" y1="254.25" y2="254.25" stroke="#000" stroke-width="1"/>
<text x="70.8" y="261.25" text-anchor="end">0.0</text>
<line x1="75.5" x2="81.5" y1="110.75" y2="110.75" stroke="#000" stroke-width="1"/>
<text x="70.8" y="117.75" text-anchor="end">0.5</text>
<rect x="82" y="39" width="440" height="287" fill="none" stroke="#000" stroke-width="1"/>
<text x="302.0" y="379.6" text-anchor="middle">V (mV)</text>
<text transform="translate(34.3,182.0) rotate(-90)" text-anchor="middle">w (nA)</text>
<line x1="687.33" x2="687.33" y1="326.5" y2="332.5" stroke="#000" stroke-width="1"/>
<text x="687.33" y="354.2" text-anchor="middle">50</text>
<line x1="760.67" x2="760.67" y1="326.5" y2="332.5" stroke="#000" stroke-width="1"/>
<text x="760.67" y="354.2" text-anchor="middle">100</text>
<line x1="834.00" x2="834.00" y1="326.5" y2="332.5" stroke="#000" stroke-width="1"/>
<text x="834.00" y="354.2" text-anchor="middle">150</text>
<line x1="907.33" x2="907.33" y1="326.5" y2="332.5" stroke="#000" stroke-width="1"/>
<text x="907.33" y="354.2" text-anchor="middle">200</text>
<line x1="980.67" x2="980.67" y1="326.5" y2="332.5" stroke="#000" stroke-width="1"/>
<text x="980.67" y="354.2" text-anchor="middle">250</text>
<line x1="607.5" x2="613.5" y1="103.31" y2="103.31" stroke="#000" stroke-width="1"/>
<text x="602.8" y="110.31" text-anchor="end">0</text>
<line x1="607.5" x2="613.5" y1="180.20" y2="180.20" stroke="#000" stroke-width="1"/>
<text x="602.8" y="187.20" text-anchor="end">-30</text>
<line x1="607.5" x2="613.5" y1="257.09" y2="257.09" stroke="#000" stroke-width="1"/>
<text x="602.8" y="264.09" text-anchor="end">-60</text>
<rect x="614" y="39" width="440" height="287" fill="none" stroke="#000" stroke-width="1"/>
<text x="834.0" y="379.6" text-anchor="middle">t (ms)</text>
<text transform="translate(564.4,182.0) rotate(-90)" text-anchor="middle">V (mV)</text>
<line x1="1217.33" x2="1217.33" y1="326.5" y2="332.5" stroke="#000" stroke-width="1"/>
<text x="1217.33" y="354.2" text-anchor="middle">50</text>
<line x1="1290.67" x2="1290.67" y1="326.5" y2="332.5" stroke="#000" stroke-width="1"/>
<text x="1290.67" y="354.2" text-anchor="middle">100</text>
<line x1="1364.00" x2="1364.00" y1="326.5" y2="332.5" stroke="#000" stroke-width="1"/>
<text x="1364.00" y="354.2" text-anchor="middle">150</text>
<line x1="1437.33" x2="1437.33" y1="326.5" y2="332.5" stroke="#000" stroke-width="1"/>
<text x="1437.33" y="354.2" text-anchor="middle">200</text>
<line x1="1510.67" x2="1510.67" y1="326.5" y2="332.5" stroke="#000" stroke-width="1"/>
<text x="1510.67" y="354.2" text-anchor="middle">250</text>
<line x1="1137.5" x2="1143.5" y1="312.95" y2="312.95" stroke="#000" stroke-width="1"/>
<text x="1132.8" y="319.95" text-anchor="end">0.0</text>
<line x1="1137.5" x2="1143.5" y1="258.04" y2="258.04" stroke="#000" stroke-width="1"/>
<text x="1132.8" y="265.04" text-anchor="end">0.1</text>
<line x1="1137.5" x2="1143.5" y1="203.13" y2="203.13" stroke="#000" stroke-width="1"/>
<text x="1132.8" y="210.13" text-anchor="end">0.2</text>
<line x1="1137.5" x2="1143.5" y1="148.21" y2="148.21" stroke="#000" stroke-width="1"/>
<text x="1132.8" y="155.21" text-anchor="end">0.3</text>
<line x1="1137.5" x2="1143.5" y1="93.30" y2="93.30" stroke="#000" stroke-width="1"/>
<text x="1132.8" y="100.30" text-anchor="end">0.4</text>
<rect x="1144" y="39" width="440" height="287" fill="none" stroke="#000" stroke-width="1"/>
<text x="1364.0" y="379.6" text-anchor="middle">t (ms)</text>
<text transform="translate(1097,182.0) rotate(-90)" text-anchor="middle">w (nA)</text>
<text transform="translate(43,35) scale(1.08,0.97)">d</text>
</svg>
</body></html>
